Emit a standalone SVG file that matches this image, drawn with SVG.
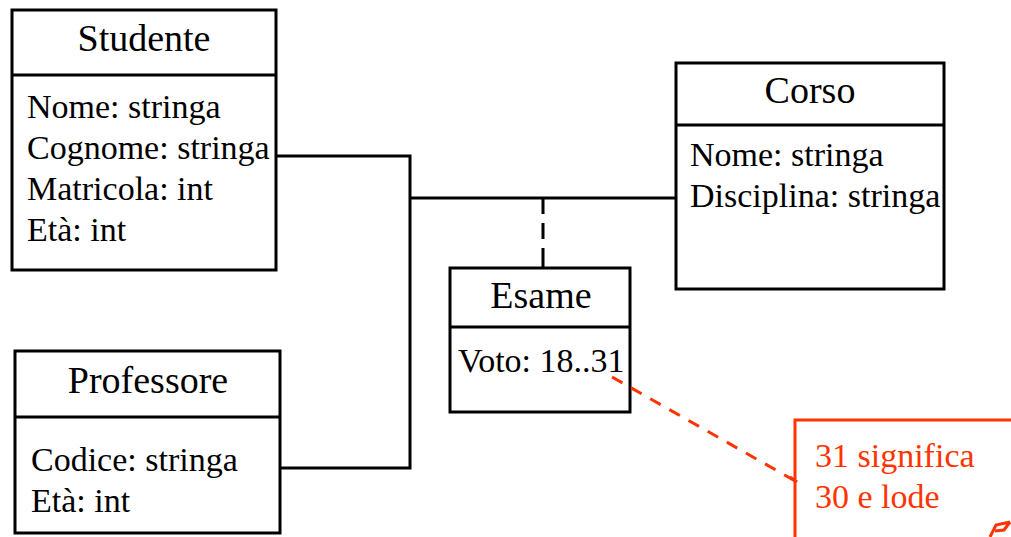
<svg xmlns="http://www.w3.org/2000/svg" width="1011" height="537" viewBox="0 0 1011 537">
<style>
.box{fill:#fff;stroke:#000;stroke-width:3}
.div{stroke:#000;stroke-width:3}
.title{font-family:"Liberation Serif","Times New Roman",serif;font-size:38px;fill:#000;text-anchor:middle}
.attr{font-family:"Liberation Serif","Times New Roman",serif;font-size:34px;fill:#000}
.conn{fill:none;stroke:#000;stroke-width:3}
.dash{fill:none;stroke:#000;stroke-width:3;stroke-dasharray:15 9 16 9 21 9}
.note{fill:none;stroke:#ff3300;stroke-width:3}
.notetext{font-family:"Liberation Serif","Times New Roman",serif;font-size:34px;fill:#ff3300}
.rdash{fill:none;stroke:#ff3300;stroke-width:3;stroke-dasharray:12 10}
</style>
<rect width="1011" height="537" fill="#fff"/>
<g id="studente">
<rect class="box" x="12" y="10" width="264" height="260"/>
<line class="div" x1="12" y1="75" x2="276" y2="75"/>
<text class="title" x="144" y="51">Studente</text>
<text class="attr" x="27" y="118">Nome: stringa</text>
<text class="attr" x="27" y="159">Cognome: stringa</text>
<text class="attr" x="27" y="200">Matricola: int</text>
<text class="attr" x="27" y="241">Età: int</text>
</g>
<g id="professore">
<rect class="box" x="15" y="351" width="265" height="182"/>
<line class="div" x1="15" y1="417" x2="280" y2="417"/>
<text class="title" x="148" y="393">Professore</text>
<text class="attr" x="31" y="471">Codice: stringa</text>
<text class="attr" x="31" y="512">Età: int</text>
</g>
<g id="corso">
<rect class="box" x="676" y="63" width="268" height="226"/>
<line class="div" x1="676" y1="125" x2="944" y2="125"/>
<text class="title" x="810" y="103">Corso</text>
<text class="attr" x="690" y="166">Nome: stringa</text>
<text class="attr" x="690" y="207">Disciplina: stringa</text>
</g>
<g id="esame">
<rect class="box" x="450" y="268" width="180" height="144"/>
<line class="div" x1="450" y1="327" x2="630" y2="327"/>
<text class="title" x="541" y="308">Esame</text>
<text class="attr" x="458" y="372">Voto: 18..31</text>
</g>
<g id="nota">
<polyline class="note" points="795,537 795,420 1013,420"/>
<path class="note" d="M990 537 L996 525 L1010 522 M995 531 L1004 530 L1010 522"/>
<text class="notetext" x="815" y="467">31 significa</text>
<text class="notetext" x="815" y="508">30 e lode</text>
</g>
<g id="connectors">
<polyline class="conn" points="276,156 410,156 410,468 280,468"/>
<line class="conn" x1="410" y1="198" x2="677" y2="198"/>
<line class="dash" x1="543" y1="199" x2="543" y2="268"/>
<line class="rdash" x1="612" y1="377" x2="797" y2="482"/>
<line class="note" x1="790" y1="477" x2="797" y2="482"/>
</g>
</svg>
